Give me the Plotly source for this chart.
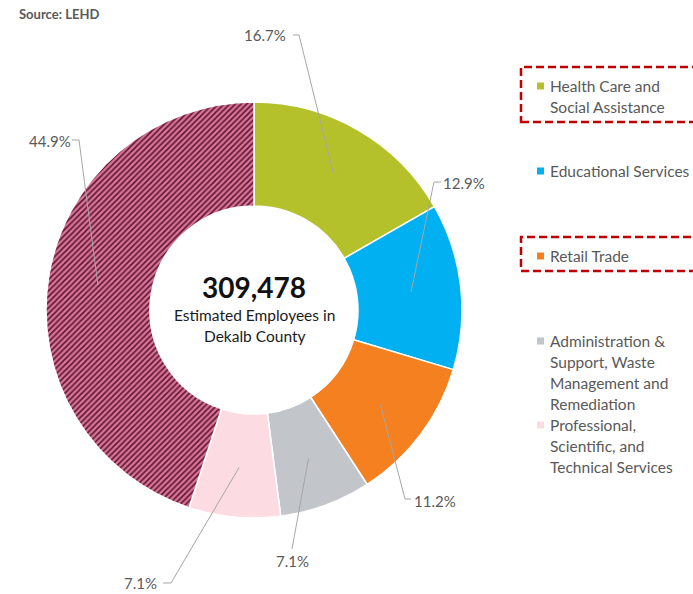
import math
import plotly.graph_objects as go

# ---- data -------------------------------------------------------------
industries = [
    "Health Care and<br>Social Assistance",
    "Educational Services",
    "Retail Trade",
    "Administration &<br>Support, Waste<br>Management and<br>Remediation",
    "Professional,<br>Scientific, and<br>Technical Services",
    "Other",
]
shares = [16.7, 12.9, 11.2, 7.1, 7.1, 44.9]
total_employees = 309478
highlighted = ["Health Care and<br>Social Assistance", "Retail Trade"]

# ---- styling ----------------------------------------------------------
W, H = 693, 594
colors = ["#b5c12b", "#00b0f0", "#f5801f", "#c2c5c9", "#fcdce2", "#d87596"]
hatch = ["", "", "", "", "", "/"]
FONT = "Lato"
TXT = "#595959"

# donut geometry in pixels
cx, cy, R = 254, 310, 208
hole = 0.5


def px(x):
    return x / W


def py(y):
    return 1 - y / H


fig = go.Figure()
fig.add_trace(go.Pie(
    labels=[l.replace("<br>", " ") for l in industries],
    values=shares,
    sort=False,
    direction="clockwise",
    rotation=0,
    hole=hole,
    textinfo="none",
    hoverinfo="label+percent",
    showlegend=False,
    marker=dict(
        colors=colors,
        line=dict(color="white", width=1.5),
        pattern=dict(shape=hatch, fgcolor="#5c1230", bgcolor=colors,
                     fillmode="replace", size=4, solidity=0.38),
    ),
    domain=dict(x=[px(cx - R), px(cx + R)], y=[py(cy + R), py(cy - R)]),
))

# ---- percent labels with leader lines ---------------------------------
# label text centre, then the start and elbow of each leader line
label_layout = [
    dict(text=(265, 35), pts=[(293, 35), (299, 35)]),
    dict(text=(464, 183), pts=[(441, 182), (434, 182)]),
    dict(text=(435, 501), pts=[(411, 499), (405, 499)]),
    dict(text=(292, 561), pts=[(292, 549)]),
    dict(text=(140, 583), pts=[(163, 583), (171, 583)]),
    dict(text=(50, 141), pts=[(72, 140), (79, 140)]),
]

shapes = []
annotations = []
tot = sum(shares)
cum = 0.0
for val, lay in zip(shares, label_layout):
    mid = (cum + val / 2) / tot * 2 * math.pi
    cum += val
    rr = 0.76 * R
    ex, ey = cx + rr * math.sin(mid), cy - rr * math.cos(mid)
    pts = lay["pts"] + [(ex, ey)]
    path = "M " + " L ".join(f"{px(x):.5f},{py(y):.5f}" for x, y in pts)
    shapes.append(dict(type="path", xref="paper", yref="paper", path=path,
                       line=dict(color="#a6a6a6", width=1), layer="above"))
    tx, ty = lay["text"]
    annotations.append(dict(x=px(tx), y=py(ty), xref="paper", yref="paper",
                            text=f"{val:.1f}%", showarrow=False,
                            xanchor="center", yanchor="middle",
                            font=dict(family=FONT, size=15, color=TXT)))

# ---- centre text ------------------------------------------------------
annotations.append(dict(x=px(cx), y=py(287), xref="paper", yref="paper",
                        text=f"<b>{total_employees:,}</b>", showarrow=False,
                        xanchor="center", yanchor="middle",
                        font=dict(family=FONT, size=28, color="#111111")))
for i, line in enumerate(["Estimated Employees in", "Dekalb County"]):
    annotations.append(dict(x=px(cx), y=py(315 + 21 * i), xref="paper", yref="paper",
                            text=line, showarrow=False,
                            xanchor="center", yanchor="middle",
                            font=dict(family=FONT, size=15.5, color="#1a1a1a")))

# ---- source note ------------------------------------------------------
annotations.append(dict(x=px(17), y=py(14), xref="paper", yref="paper",
                        text="<b>Source: LEHD</b>", showarrow=False,
                        xanchor="left", yanchor="middle",
                        font=dict(family=FONT, size=13, color=TXT)))

# ---- legend (first five industries) -----------------------------------
legend_top = [86, 171, 256, 341, 425]
line_gap = 21
for name, col, y0 in zip(industries[:5], colors[:5], legend_top):
    shapes.append(dict(type="rect", xref="paper", yref="paper",
                       x0=px(537), x1=px(544), y0=py(y0 - 3.5), y1=py(y0 + 3.5),
                       fillcolor=col, line=dict(width=0)))
    lines = name.split("<br>")
    for j, ln in enumerate(lines):
        annotations.append(dict(x=px(548), y=py(y0 + j * line_gap),
                                xref="paper", yref="paper", text=ln,
                                showarrow=False, xanchor="left", yanchor="middle",
                                font=dict(family=FONT, size=15.5, color=TXT)))
    if name in highlighted:
        y_lo = y0 - 19
        y_hi = y0 + (len(lines) - 1) * line_gap + 15
        shapes.append(dict(type="rect", xref="paper", yref="paper",
                           x0=px(521), x1=px(W + 10), y0=py(y_hi), y1=py(y_lo),
                           line=dict(color="#c00000", width=2.5, dash="8px,4px")))

fig.update_layout(
    width=W, height=H,
    margin=dict(l=0, r=0, t=0, b=0),
    paper_bgcolor="white",
    plot_bgcolor="white",
    shapes=shapes,
    annotations=annotations,
)

fig.write_html("out.html")
